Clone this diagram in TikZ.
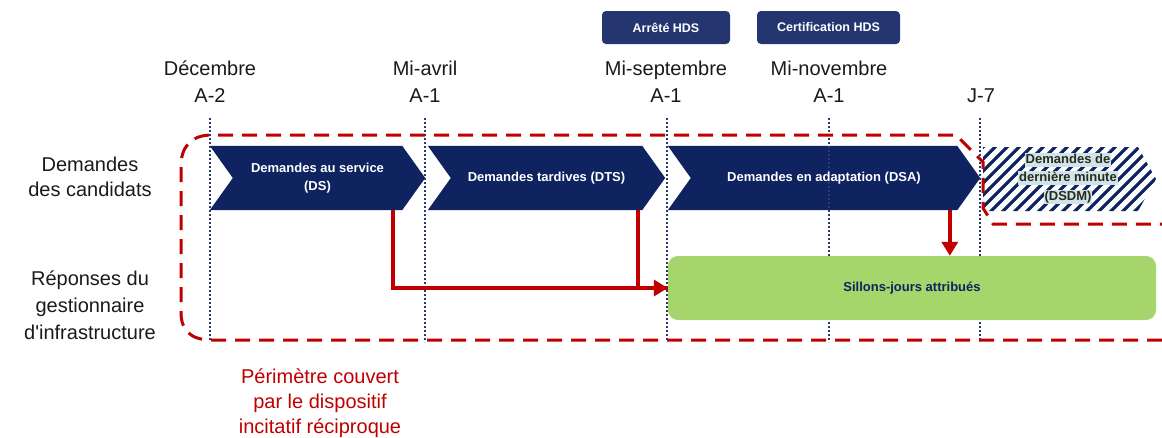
\documentclass[tikz,border=0pt]{standalone}
\usepackage{fontspec}
\setmainfont{Liberation Sans}
\usetikzlibrary{calc,arrows.meta,backgrounds}
\definecolor{navy}{HTML}{0E2360}
\definecolor{boxnavy}{HTML}{253570}
\definecolor{dotnavy}{HTML}{2B3A6E}
\definecolor{myred}{HTML}{C00000}
\definecolor{mygreen}{HTML}{A5D56B}
\definecolor{txt}{HTML}{1A1A1A}
\definecolor{lblbg}{HTML}{CFE3E8}
\definecolor{dmtxt}{HTML}{2A2A1A}
\begin{document}
\begin{tikzpicture}[x=1pt,y=-1pt,
  datelbl/.style={align=center,text=txt,font=\fontsize{20}{27}\selectfont,inner sep=0pt},
  sidelbl/.style={align=center,text=txt,font=\fontsize{20}{27}\selectfont,inner sep=0pt},
  topbox/.style={fill=boxnavy,rounded corners=4pt,text=white,font=\bfseries\fontsize{12.5}{15}\selectfont,minimum height=33pt,inner sep=0pt},
  chev/.style={minimum height=64pt,inner sep=0pt,align=center,text=white,font=\bfseries\fontsize{13}{18}\selectfont},
  dmline/.style={fill=lblbg,inner xsep=1pt,inner ysep=0.5pt,text=dmtxt,font=\bfseries\fontsize{13}{16}\selectfont,text height=10pt,text depth=3pt},
  hatch/.style={navy,line width=3.2pt},
  vline/.style={dotnavy,line width=1.8pt,dash pattern=on 1.8pt off 2.2pt},
  redarrow/.style={myred,line width=4pt,-{Triangle[length=14pt,width=16pt]}},
  redline/.style={myred,line width=4pt},
  reddash/.style={myred,line width=3pt,dash pattern=on 15pt off 9pt},
]
\useasboundingbox (0,0) rectangle (1162,437);

% top boxes
\node[topbox,minimum width=128pt] (arr) at (666,27.5) {Arrêté HDS};
\node[topbox,minimum width=143pt] (cert) at (828.5,27.5) {Certification HDS};

% date labels
\node[datelbl] (d1) at (210,82) {Décembre\\A-2};
\node[datelbl] (d2) at (425,82) {Mi-avril\\A-1};
\node[datelbl] (d3) at (666,82) {Mi-septembre\\A-1};
\node[datelbl] (d4) at (829,82) {Mi-novembre\\A-1};
\node[datelbl,anchor=base] (d5) at (981,102) {J-7};

% vertical dotted lines
\draw[vline] (210,118) -- (210,342);
\draw[vline] (425,118) -- (425,342);
\draw[vline] (667,118) -- (667,342);
\draw[vline] (829,118) -- (829,342);
\draw[vline] (980,118) -- (980,342);

% side labels
\node[sidelbl,font=\fontsize{20}{25}\selectfont] (cand) at (90,177) {Demandes\\des candidats};
\node[sidelbl] (gest) at (90,305) {Réponses du\\gestionnaire\\d\textquotesingle infrastructure};

% chevrons
\node[chev,minimum width=215pt] (ds) at (317.5,178) {Demandes au service\\(DS)};
\node[chev,minimum width=237pt] (dts) at (546.5,178) {Demandes tardives (DTS)};
\node[chev,minimum width=312pt] (dsa) at (824,178) {Demandes en adaptation (DSA)};
\begin{pgfonlayer}{background}
\foreach \n in {ds,dts,dsa}{
  \fill[navy] (\n.north west) -- ($(\n.north east)+(-23,0)$) -- (\n.east) -- ($(\n.south east)+(-23,0)$) -- (\n.south west) -- ($(\n.west)+(23,0)$) -- cycle;
}
\end{pgfonlayer}

% DSDM hatched chevron
\coordinate (dm1) at (983,147);
\coordinate (dm2) at (1138,147);
\coordinate (dm3) at (1156,179);
\coordinate (dm4) at (1138,211);
\coordinate (dm5) at (983,211);
\begin{scope}
\clip (dm1) -- (dm2) -- (dm3) -- (dm4) -- (dm5) -- cycle;
\foreach \x in {915,927,...,1160}{
  \draw[hatch] (\x,215) -- ++(72,-72);
}
\end{scope}
\node[dmline] (dsdma) at (1068,160) {Demandes de};
\node[dmline] (dsdmb) at (1068,178) {dernière minute};
\node[dmline] (dsdmc) at (1068,197) {(DSDM)};

% green box
\node[fill=mygreen,rounded corners=10pt,minimum width=488pt,minimum height=64pt,inner sep=0pt,text=navy,font=\bfseries\fontsize{13}{16}\selectfont] (sil) at (912,288) {Sillons-jours attribués};

% red arrows
\coordinate (a1) at ($(ds.south west)+(183,0)$);
\coordinate (a2) at ($(dts.south west)+(210,0)$);
\coordinate (a3) at ($(dsa.south west)+(282,0)$);
\draw[redline] (a2) |- (sil.west);
\draw[redarrow] (a1) |- (sil.west);
\draw[redarrow] (a3) -- (a3 |- sil.north);

% red dashed perimeter
\draw[reddash] (1162,340) -- (212,340) .. controls (190,340) and (181,330) .. (181,312) -- (181,166) .. controls (181,148) and (190,135) .. (212,135) -- (956,135) -- (983,162) -- (983,208) -- (993,224) -- (1162,224);

% red caption
\node[align=center,text=myred,font=\fontsize{20}{25}\selectfont,inner sep=0pt] (perim) at (320,403) {Périmètre couvert\\par le dispositif\\incitatif réciproque};
\end{tikzpicture}
\end{document}
